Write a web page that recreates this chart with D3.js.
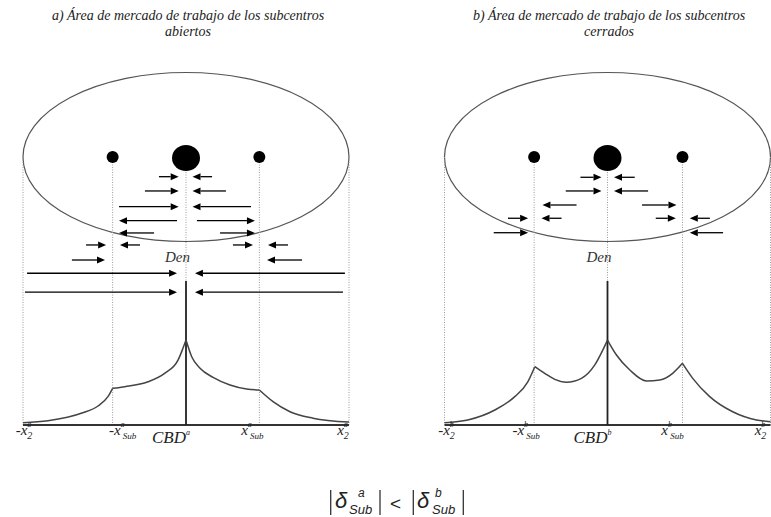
<!DOCTYPE html>
<html><head><meta charset="utf-8">
<script src="https://cdn.jsdelivr.net/npm/d3@7"></script>
<style>
body{margin:0;background:#fff}svg{display:block}
.sf{font-family:"Liberation Serif","Times New Roman","DejaVu Serif",serif;font-style:italic}
.ff{font-family:"Liberation Sans","Arial","DejaVu Sans",sans-serif}
</style>
</head><body>
<svg id="c" width="771" height="517"></svg>
<script>
// ---------- data ----------
const titleA = ["a) Área de mercado de trabajo de los subcentros", "abiertos"];
const titleB = ["b) Área de mercado de trabajo de los subcentros", "cerrados"];
const tickValuesA = [-1, -0.45, 0, 0.45, 1];
const tickValuesB = [-1, -0.45, 0, 0.46, 1];
const tickKinds = ["-2", "-Sub", "CBD", "Sub", "2"];
const subDotsA = [-0.45, 0.45];
const subDotsB = [-0.45, 0.46];
// density profile, split at the kinks (x in units of x2, density 0..1)
const densityA = [
  [[-1,0.016],[-0.847,0.03],[-0.638,0.083],[-0.54,0.132],[-0.479,0.197],[-0.45,0.255]],
  [[-0.45,0.255],[-0.374,0.266],[-0.233,0.30],[-0.129,0.36],[-0.049,0.45],[-0.018,0.535],[0,0.59]],
  [[0,0.59],[0.035,0.474],[0.086,0.394],[0.166,0.331],[0.27,0.278],[0.372,0.25],[0.45,0.243]],
  [[0.45,0.243],[0.534,0.162],[0.638,0.092],[0.779,0.047],[1,0.02]]
];
const densityB = [
  [[-1,0.016],[-0.857,0.035],[-0.691,0.104],[-0.569,0.197],[-0.489,0.30],[-0.446,0.405]],
  [[-0.446,0.405],[-0.385,0.359],[-0.323,0.317],[-0.252,0.297],[-0.16,0.324],[-0.078,0.417],[-0.029,0.52],[0,0.59]],
  [[0,0.59],[0.055,0.486],[0.137,0.382],[0.239,0.306],[0.321,0.313],[0.40,0.359],[0.46,0.428]],
  [[0.46,0.428],[0.523,0.324],[0.627,0.197],[0.768,0.092],[0.914,0.035],[1,0.023]]
];
// commuting arrows: [row (map units), from, to]
const arrowsA = [
  [0.233,-0.166,-0.045],[0.233,0.16,0.04],
  [0.402,-0.252,-0.045],[0.402,0.245,0.04],
  [0.588,-0.411,-0.045],[0.588,0.399,0.04],
  [0.754,-0.055,-0.411],[0.754,0.067,0.423],
  [0.899,-0.196,-0.411],[0.899,0.209,0.423],
  [1.041,-0.613,-0.49],[1.041,-0.282,-0.405],[1.041,0.288,0.411],[1.041,0.626,0.503],
  [1.219,-0.70,-0.497],[1.219,0.712,0.497],
  [1.376,-0.975,-0.055],[1.376,0.975,0.055],
  [1.60,-0.988,-0.055],[1.60,0.963,0.055]
];
const arrowsB = [
  [0.24,-0.166,-0.037],[0.24,0.167,0.04],
  [0.402,-0.256,-0.037],[0.402,0.249,0.04],
  [0.568,-0.19,-0.399],[0.568,0.212,0.423],
  [0.725,-0.61,-0.487],[0.725,-0.282,-0.405],[0.725,0.296,0.419],[0.725,0.628,0.505],
  [0.896,-0.698,-0.487],[0.896,0.709,0.505]
];

// ---------- layout ----------
const svg = d3.select("#c");
const mapY = d3.scaleLinear().domain([-1, 1]).range([72.5, 241.5]);
const yDen = d3.scaleLinear().domain([0, 1]).range([425, 281]);

const panels = [
  {x: d3.scaleLinear().domain([-1,1]).range([23,349]), title: titleA, tcx: 188, ticks: tickValuesA,
   subs: subDotsA, density: densityA, arrows: arrowsA, sup: "a", labelDx: [1,10,0,-7,-6]},
  {x: d3.scaleLinear().domain([-1,1]).range([444.5,770.5]), title: titleB, tcx: 609, ticks: tickValuesB,
   subs: subDotsB, density: densityB, arrows: arrowsB, sup: "b", labelDx: [2,-8,0,-10,-10]}
];

panels.forEach(p => {
  const g = svg.append("g");
  const x = p.x;
  const cx = x(0);

  // titles
  p.title.forEach((t, i) => {
    g.append("text").attr("class", "sf").attr("x", p.tcx).attr("y", 20 + i * 16)
      .attr("text-anchor", "middle").attr("font-size", 14).attr("fill", "#222").text(t);
  });

  // ellipse (map of the city)
  g.append("ellipse").attr("cx", cx).attr("cy", mapY(0))
    .attr("rx", (x(1) - x(-1)) / 2).attr("ry", (mapY(1) - mapY(-1)) / 2)
    .attr("fill", "none").attr("stroke", "#555").attr("stroke-width", 1.2);

  // dotted guide lines
  const dotted = (xv, y1, y2) => g.append("line").attr("x1", x(xv)).attr("x2", x(xv))
    .attr("y1", y1).attr("y2", y2).attr("stroke", "#9a9a9a").attr("stroke-width", 1)
    .attr("stroke-dasharray", "1,1.5");
  [-1, 1].forEach(v => dotted(v, mapY(0), yDen(0)));
  p.subs.forEach(v => dotted(v, mapY(0), yDen(0)));
  dotted(0, mapY(0), yDen(1));

  // centres
  g.append("ellipse").attr("cx", cx).attr("cy", mapY(0) + 1).attr("rx", 14).attr("ry", 13).attr("fill", "#000");
  p.subs.forEach(v => g.append("circle").attr("cx", x(v)).attr("cy", mapY(0)).attr("r", 6).attr("fill", "#000"));

  // arrows
  const L = 8, W = 3.5;
  p.arrows.forEach(([r, a, b]) => {
    const y = mapY(r), x1 = x(a), x2 = x(b), dir = Math.sign(x2 - x1);
    g.append("line").attr("x1", x1).attr("x2", x2 - dir * L).attr("y1", y).attr("y2", y)
      .attr("stroke", "#000").attr("stroke-width", 1.3);
    g.append("path").attr("d", `M${x2},${y}L${x2 - dir * L},${y - W}L${x2 - dir * L},${y + W}Z`).attr("fill", "#000");
  });

  // axis and centre line
  g.append("line").attr("x1", x(-1)).attr("x2", x(1)).attr("y1", yDen(0)).attr("y2", yDen(0))
    .attr("stroke", "#333").attr("stroke-width", 2);
  g.append("line").attr("x1", cx).attr("x2", cx).attr("y1", yDen(0)).attr("y2", yDen(1))
    .attr("stroke", "#222").attr("stroke-width", 1.8);

  // density curve
  const dl = d3.line().x(d => x(d[0])).y(d => yDen(d[1])).curve(d3.curveMonotoneX);
  p.density.forEach(seg => g.append("path").attr("d", dl(seg)).attr("fill", "none")
    .attr("stroke", "#444").attr("stroke-width", 1.5));

  // Den label
  g.append("text").attr("class", "sf").attr("x", cx + 4).attr("y", yDen(1) - 19).attr("text-anchor", "end")
    .attr("font-size", 15).attr("fill", "#333").text("Den");

  // tick labels
  p.ticks.forEach((v, i) => {
    const kind = tickKinds[i];
    if (kind === "CBD") {
      const t = g.append("text").attr("class", "sf").attr("x", cx + 4).attr("y", 443).attr("text-anchor", "end")
        .attr("fill", "#222");
      t.append("tspan").attr("font-size", 17).text("CBD");
      t.append("tspan").attr("font-size", 8).attr("dy", -8).text(p.sup);
      return;
    }
    const t = g.append("text").attr("class", "sf").attr("x", x(v) + p.labelDx[i]).attr("y", 435)
      .attr("text-anchor", "middle").attr("fill", "#222");
    t.append("tspan").attr("font-size", 15).text(kind.startsWith("-") ? "-x" : "x");
    t.append("tspan").attr("font-size", 8).attr("dy", -8).text(p.sup);
    const sub = kind.replace("-", "");
    t.append("tspan").attr("font-size", sub === "2" ? 10 : 9).attr("dx", -4).attr("dy", 12).text(sub === "2" ? "2" : " Sub");
  });
});

// ---------- bottom formula ----------
const f = svg.append("g").attr("class", "ff").attr("fill", "#222");
[330.7, 380, 413.3, 463.3].forEach(xv => f.append("line").attr("x1", xv).attr("x2", xv)
  .attr("y1", 490).attr("y2", 515).attr("stroke", "#333").attr("stroke-width", 1.3));
const piece = (txt, xv, yv, size, italic) => f.append("text").attr("x", xv).attr("y", yv)
  .attr("font-size", size).attr("font-style", italic ? "italic" : "normal").text(txt);
piece("δ", 335, 508, 22, true);
piece("a", 358, 497, 12, true);
piece("Sub", 349, 514, 13, true);
piece("<", 390, 510, 19, false);
piece("δ", 417, 508, 22, true);
piece("b", 435, 497, 12, true);
piece("Sub", 432, 514, 13, true);
</script>
</body></html>
